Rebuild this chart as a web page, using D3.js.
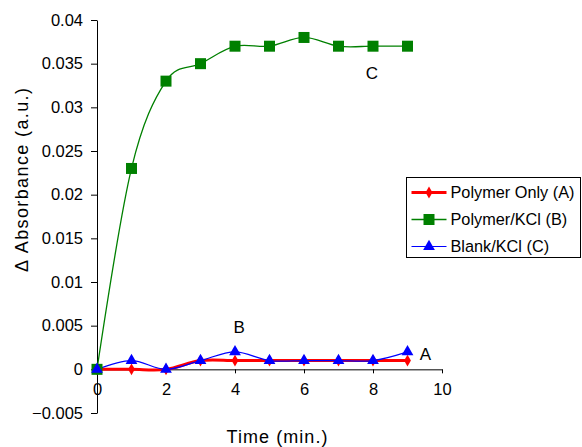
<!DOCTYPE html>
<html>
<head>
<meta charset="utf-8">
<script src="https://cdn.jsdelivr.net/npm/d3@7"></script>
<style>
  body { margin: 0; background: #fff; }
  svg { font-family: "Liberation Sans", Arial, sans-serif; }
</style>
</head>
<body>
<div id="chart"></div>
<script>
// data
const times = [0, 1, 2, 3, 4, 5, 6, 7, 8, 9];
const polymerOnly = [0, 0, 0, 0.001, 0.001, 0.001, 0.001, 0.001, 0.001, 0.001];
const polymerKcl = [0, 0.023, 0.033, 0.035, 0.037, 0.037, 0.038, 0.037, 0.037, 0.037];
const blankKcl = [0, 0.001, 0, 0.001, 0.002, 0.001, 0.001, 0.001, 0.001, 0.002];
const xTicks = [0, 2, 4, 6, 8, 10];
const yTicks = [-0.005, 0, 0.005, 0.01, 0.015, 0.02, 0.025, 0.03, 0.035, 0.04];
const seriesNames = ['Polymer Only (A)', 'Polymer/KCl (B)', 'Blank/KCl (C)'];
const curveLabels = [
  { text: 'C', t: 7.97, v: 0.0332 },
  { text: 'B', t: 4.12, v: 0.0042 },
  { text: 'A', t: 9.52, v: 0.0011 }
];

const width = 582;
const height = 447;

const svg = d3.select('#chart').append('svg')
  .attr('width', width)
  .attr('height', height);

const x = d3.scaleLinear().domain([0, 10]).range([97, 442]);
const y = d3.scaleLinear().domain([-0.005, 0.04]).range([413, 20]);

// ***** axes *****
const yAxis = svg.append('g')
  .attr('transform', `translate(${x(0)},0)`)
  .call(d3.axisLeft(y).tickValues(yTicks).tickSize(6).tickSizeOuter(0)
    .tickFormat(d => d3.format('')(+d.toFixed(3))));
yAxis.select('.domain').attr('stroke', '#000');
yAxis.selectAll('text').attr('font-size', '16.5px').attr('fill', '#000').attr('x', -14);

const xAxis = svg.append('g')
  .attr('transform', `translate(0,${y(0)})`)
  .call(d3.axisBottom(x).tickValues(xTicks).tickSize(4).tickSizeOuter(0));
xAxis.select('.domain').attr('stroke', '#000');
xAxis.selectAll('text').attr('font-size', '16.5px').attr('fill', '#000')
  .attr('y', 26).attr('dy', 0);

svg.append('text')
  .attr('x', 277).attr('y', 443)
  .attr('text-anchor', 'middle')
  .attr('font-size', '18px')
  .attr('textLength', 101)
  .attr('lengthAdjust', 'spacing')
  .text('Time (min.)');

svg.append('text')
  .attr('transform', 'translate(28,180) rotate(-90)')
  .attr('text-anchor', 'middle')
  .attr('font-size', '18px')
  .attr('textLength', 184)
  .attr('lengthAdjust', 'spacing')
  .text('\u0394 Absorbance (a.u.)');

// ***** series *****
const line = d3.line()
  .x((d, i) => x(times[i]))
  .y(d => y(d))
  .curve(d3.curveCardinal.tension(0));

const series = [
  { name: seriesNames[0], values: polymerOnly, color: '#ff0000', width: 3, marker: 'diamond', size: 40 },
  { name: seriesNames[1], values: polymerKcl, color: '#008000', width: 1.3, marker: 'square', size: 121 },
  { name: seriesNames[2], values: blankKcl, color: '#0000ff', width: 1.2, marker: 'triangle', size: 60 }
];

const symbolType = {
  diamond: d3.symbolDiamond,
  square: d3.symbolSquare,
  triangle: d3.symbolTriangle
};

series.forEach(s => {
  svg.append('path')
    .attr('d', line(s.values))
    .attr('fill', 'none')
    .attr('stroke', s.color)
    .attr('stroke-width', s.width);
});

series.forEach(s => {
  svg.append('g').selectAll('path')
    .data(s.values)
    .join('path')
    .attr('transform', (d, i) => `translate(${x(times[i])},${y(d)})`)
    .attr('d', d3.symbol().type(symbolType[s.marker]).size(s.size))
    .attr('fill', s.color);
});

// ***** curve labels *****
svg.append('g').selectAll('text')
  .data(curveLabels)
  .join('text')
  .attr('x', d => x(d.t))
  .attr('y', d => y(d.v))
  .attr('text-anchor', 'middle')
  .attr('font-size', '17px')
  .text(d => d.text);

// ***** legend *****
const legend = svg.append('g').attr('transform', 'translate(406.5,177.5)');
legend.append('rect')
  .attr('width', 174).attr('height', 80)
  .attr('fill', '#fff').attr('stroke', '#000').attr('stroke-width', 1);

const legendRows = legend.selectAll('g')
  .data(series)
  .join('g')
  .attr('transform', (d, i) => `translate(0,${15 + i * 27})`);
legendRows.append('line')
  .attr('x1', 5).attr('x2', 40)
  .attr('stroke', d => d.color)
  .attr('stroke-width', d => d.width);
legendRows.append('path')
  .attr('transform', 'translate(22.5,0)')
  .attr('d', d => d3.symbol().type(symbolType[d.marker]).size(d.size)())
  .attr('fill', d => d.color);
legendRows.append('text')
  .attr('x', 44).attr('dy', '0.35em')
  .attr('font-size', '16.3px')
  .text(d => d.name);
</script>
</body>
</html>
